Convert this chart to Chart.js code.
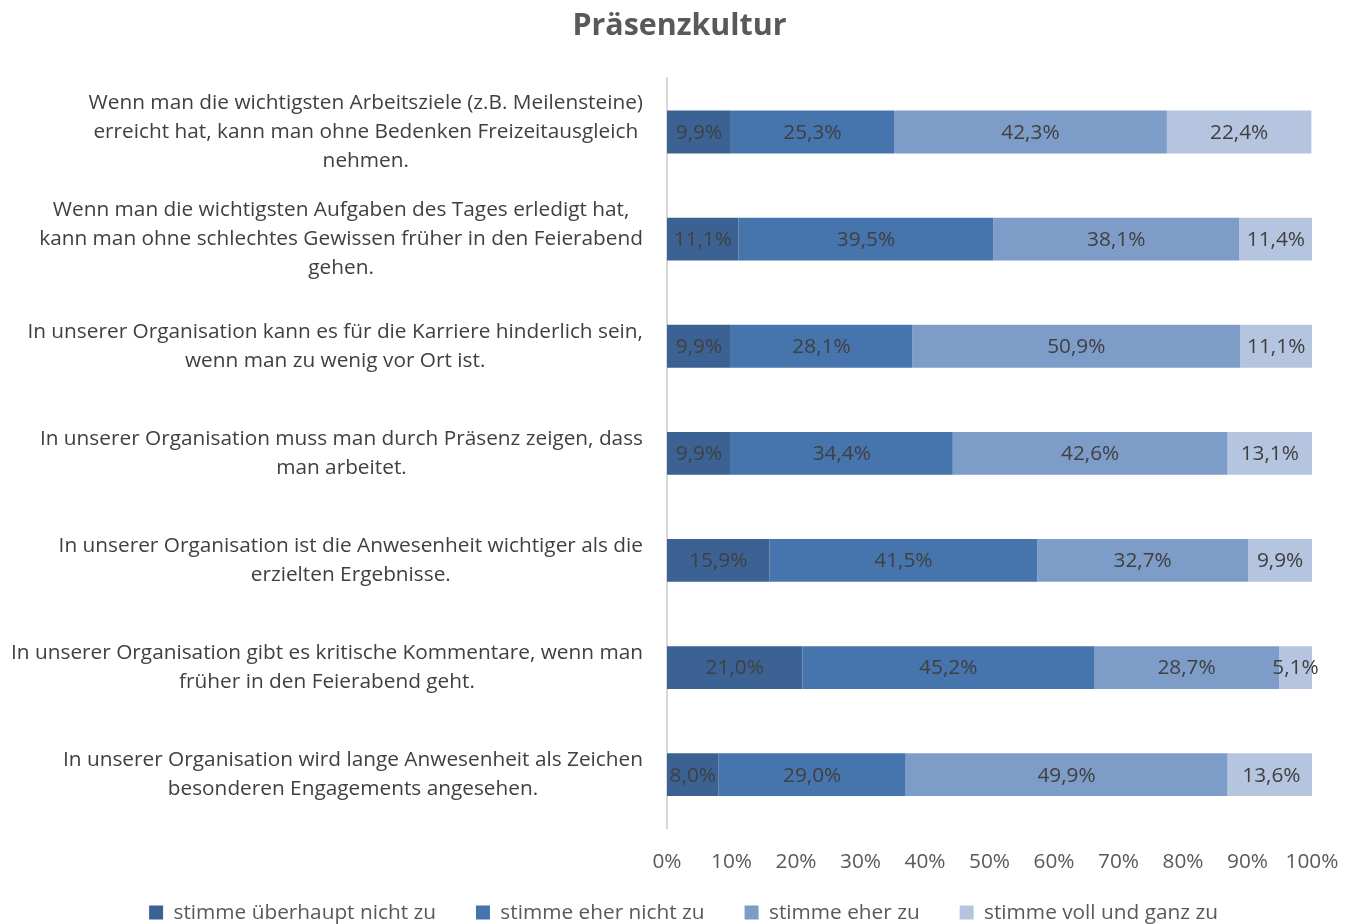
<!DOCTYPE html>
<html lang="de">
<head>
<meta charset="utf-8">
<title>Präsenzkultur</title>
<script src="https://cdn.jsdelivr.net/npm/chart.js@4.4.1/dist/chart.umd.min.js"></script>
<style>
    html, body { margin: 0; padding: 0; background: #ffffff; }
    #wrap { width: 1354px; height: 924px; }
</style>
</head>
<body>
<div id="wrap"><canvas id="kulturChart" width="1354" height="924"></canvas></div>
<script>
const statements = [
    ["Wenn man die wichtigsten Arbeitsziele (z.B. Meilensteine)", "erreicht hat, kann man ohne Bedenken Freizeitausgleich", "nehmen."],
    ["Wenn man die wichtigsten Aufgaben des Tages erledigt hat,", "kann man ohne schlechtes Gewissen früher in den Feierabend", "gehen."],
    ["In unserer Organisation kann es für die Karriere hinderlich sein,", "wenn man zu wenig vor Ort ist."],
    ["In unserer Organisation muss man durch Präsenz zeigen, dass", "man arbeitet."],
    ["In unserer Organisation ist die Anwesenheit wichtiger als die", "erzielten Ergebnisse."],
    ["In unserer Organisation gibt es kritische Kommentare, wenn man", "früher in den Feierabend geht."],
    ["In unserer Organisation wird lange Anwesenheit als Zeichen", "besonderen Engagements angesehen."],
];

const seriesNames = [
    "stimme überhaupt nicht zu",
    "stimme eher nicht zu",
    "stimme eher zu",
    "stimme voll und ganz zu",
];

const nichtZu = [9.9, 11.1, 9.9, 9.9, 15.9, 21.0, 8.0];
const eherNichtZu = [25.3, 39.5, 28.1, 34.4, 41.5, 45.2, 29.0];
const eherZu = [42.3, 38.1, 50.9, 42.6, 32.7, 28.7, 49.9];
const vollZu = [22.4, 11.4, 11.1, 13.1, 9.9, 5.1, 13.6];

const xTicks = [0, 10, 20, 30, 40, 50, 60, 70, 80, 90, 100];

const seriesColors = ["#3b6293", "#4674ad", "#7e9cc8", "#b5c4df"];
const fontFamily = "'Open Sans', sans-serif";
const fontSize = 20.8;
const textDark = "#404040";
const textGrey = "#595959";

// value labels inside the segments, e.g. "9,9%"
const segmentLabels = {
    id: "segmentLabels",
    afterDatasetsDraw(chart) {
        const ctx = chart.ctx;
        ctx.save();
        ctx.font = fontSize + "px " + fontFamily;
        ctx.fillStyle = textDark;
        ctx.textAlign = "center";
        ctx.textBaseline = "middle";
        chart.data.datasets.forEach((ds, di) => {
            const meta = chart.getDatasetMeta(di);
            meta.data.forEach((bar, i) => {
                const v = ds.data[i];
                const cx = (bar.x + bar.base) / 2;
                ctx.fillText(v.toFixed(1).replace(".", ",") + "%", cx, bar.y + 1);
            });
        });
        ctx.restore();
    },
};

// category texts: block right aligned, lines centred in the block
const statementLabels = {
    id: "statementLabels",
    afterDraw(chart) {
        const ctx = chart.ctx;
        const yScale = chart.scales.y;
        const rightEdge = yScale.right - 24;
        const lineGap = 29;
        ctx.save();
        ctx.font = fontSize + "px " + fontFamily;
        ctx.fillStyle = textDark;
        ctx.textAlign = "center";
        ctx.textBaseline = "middle";
        statements.forEach((lines, i) => {
            const y = yScale.getPixelForValue(i);
            const w = Math.max(...lines.map((l) => ctx.measureText(l).width));
            const cx = rightEdge - w / 2;
            lines.forEach((line, j) => {
                ctx.fillText(line, cx, y + (j - (lines.length - 1) / 2) * lineGap);
            });
        });
        ctx.restore();
    },
};

// legend needs wide gaps between items but should sit close to the axis
const legendShift = {
    id: "legendShift",
    afterLayout(chart) {
        chart.legend.top -= 16;
        chart.legend.bottom -= 16;
        chart.legend.left += 4;
        chart.legend.right += 4;
    },
};

const ctx = document.getElementById("kulturChart").getContext("2d");
new Chart(ctx, {
    type: "bar",
    data: {
        labels: statements.map((s) => s.join(" ")),
        datasets: [nichtZu, eherNichtZu, eherZu, vollZu].map((values, i) => ({
            label: seriesNames[i],
            data: values,
            backgroundColor: seriesColors[i],
            borderWidth: 0,
            barPercentage: 0.4,
            categoryPercentage: 1.0,
        })),
    },
    options: {
        indexAxis: "y",
        responsive: false,
        animation: false,
        layout: { padding: { left: 47, right: 42, top: 0, bottom: -25 } },
        plugins: {
            title: {
                display: true,
                text: "Präsenzkultur",
                color: textGrey,
                font: { family: fontFamily, size: 30.4, weight: "bold" },
                padding: { top: 8, bottom: 34 },
            },
            legend: {
                position: "bottom",
                labels: {
                    color: textGrey,
                    font: { family: fontFamily, size: fontSize },
                    boxWidth: 14,
                    boxHeight: 14,
                    padding: 40,
                },
            },
            tooltip: { enabled: false },
        },
        scales: {
            x: {
                stacked: true,
                min: 0,
                max: 100,
                afterBuildTicks: (scale) => {
                    scale.ticks = xTicks.map((v) => ({ value: v }));
                },
                afterFit: (scale) => {
                    scale.height = 50;
                },
                grid: { display: false },
                border: { display: false },
                ticks: {
                    color: textGrey,
                    font: { family: fontFamily, size: fontSize },
                    padding: 13,
                    maxRotation: 0,
                    callback: (v) => v + "%",
                },
            },
            y: {
                stacked: true,
                afterFit: (scale) => {
                    scale.width = 620;
                },
                grid: { display: false },
                border: { display: true, color: "#d9d9d9", width: 2 },
                ticks: { display: false },
            },
        },
    },
    plugins: [segmentLabels, statementLabels, legendShift],
});
</script>
</body>
</html>
